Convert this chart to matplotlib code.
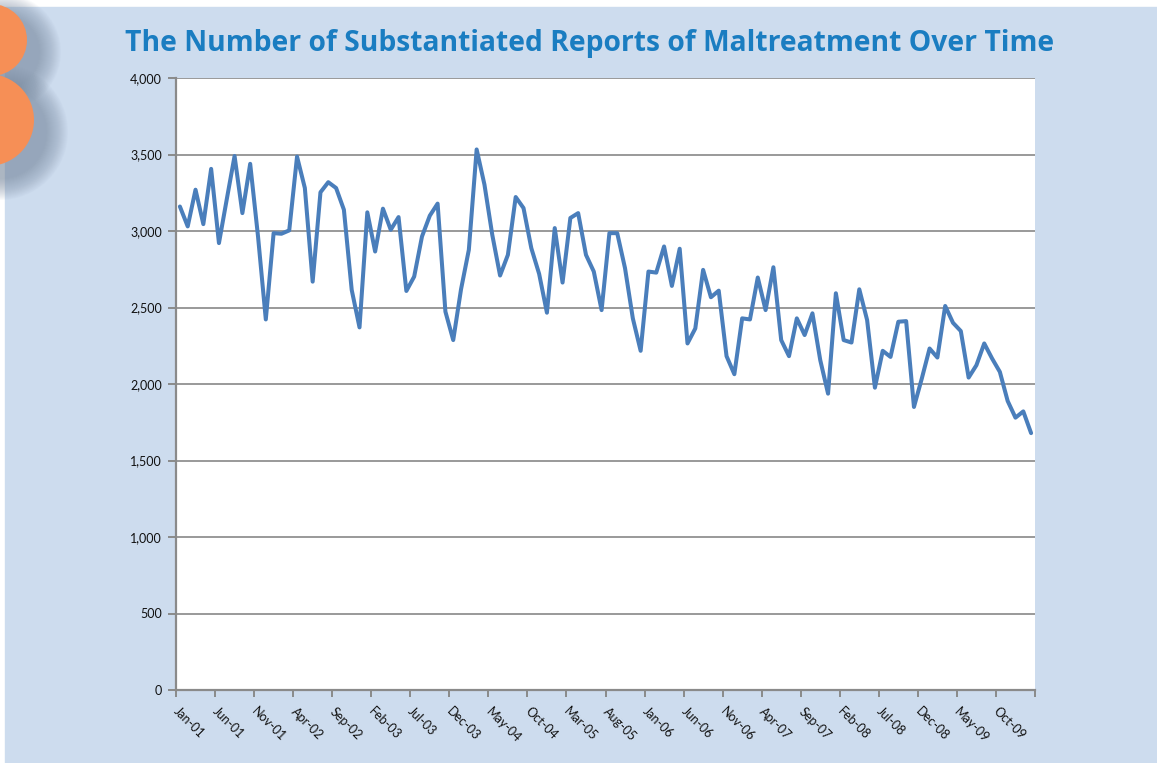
import numpy as np
import pandas as pd
import matplotlib
matplotlib.use("Agg")
import matplotlib.pyplot as plt
from matplotlib.patches import Rectangle, Circle
from matplotlib.ticker import FuncFormatter

# ---------------- data ----------------
months = list(pd.date_range("2001-01-01", periods=110, freq="MS").strftime("%b-%y"))
reports = [
    3160, 3030, 3270, 3045, 3406, 2921, 3207, 3490, 3117, 3439,
    2966, 2422, 2986, 2982, 3004, 3486, 3281, 2669, 3253, 3319,
    3281, 3139, 2615, 2370, 3122, 2866, 3146, 3008, 3091, 2608,
    2702, 2964, 3100, 3179, 2473, 2287, 2619, 2877, 3533, 3303,
    2975, 2709, 2844, 3222, 3150, 2888, 2720, 2466, 3019, 2663,
    3085, 3117, 2844, 2735, 2483, 2986, 2986, 2757, 2429, 2217,
    2735, 2728, 2899, 2641, 2884, 2265, 2363, 2746, 2567, 2610,
    2182, 2064, 2429, 2422, 2696, 2483, 2763, 2287, 2182, 2429,
    2320, 2462, 2156, 1937, 2593, 2287, 2271, 2619, 2418, 1976,
    2217, 2177, 2407, 2411, 1850, 2035, 2232, 2173, 2510, 2400,
    2346, 2042, 2123, 2265, 2167, 2079, 1889, 1780, 1821, 1679,
]
label_step = 5
tick_labels = months[::label_step]
title = "The Number of Substantiated Reports of Maltreatment Over Time"

# ---------------- figure ----------------
W, H = 1157, 763
fig = plt.figure(figsize=(W / 100, H / 100), dpi=100)

bg = fig.add_axes([0, 0, 1, 1], zorder=0)
bg.set_xlim(0, W)
bg.set_ylim(H, 0)
bg.axis("off")
bg.add_patch(Rectangle((0, 0), W, H, color="white"))
bg.add_patch(Rectangle((5, 7), W - 5, H - 7, color="#cddcee"))

# decorative orange circles with soft shadow
circles = [(-9, 40, 36), (-12, 120, 46)]
for (cx, cy, r) in circles:
    for k in range(22, 0, -1):
        bg.add_patch(Circle((cx + 12, cy + 12), r + k, color="#7d8ea3",
                            alpha=0.04, lw=0))
for (cx, cy, r) in circles:
    bg.add_patch(Circle((cx, cy), r, color="#f68f56", lw=0))

bg.text(590, 44, title, ha="center", va="center", color="#1a7dc1",
        fontfamily="Open Sans", fontweight="bold", fontsize=20.3)

# ---------------- main axes ----------------
left, right, top, bottom = 176, 1035, 78, 690
ax = fig.add_axes([left / W, 1 - bottom / H, (right - left) / W, (bottom - top) / H],
                  zorder=2)
ax.set_facecolor("white")

x = np.arange(len(reports))
ax.plot(x, reports, color="#4a7ebb", lw=2.9, solid_joinstyle="round",
        solid_capstyle="round", zorder=3)

ax.set_ylim(0, 4000)
ax.set_yticks(np.arange(0, 4001, 500))
ax.yaxis.set_major_formatter(FuncFormatter(lambda v, p: f"{int(v):,}"))
ax.yaxis.grid(True, color="#999999", lw=1.4, zorder=1)
ax.set_axisbelow(True)

ax.set_xlim(-0.5, len(reports) - 0.5)
ax.set_xticks(np.arange(-0.5, len(reports), label_step))
ax.set_xticklabels([])
ax.set_xticks(x[::label_step], labels=tick_labels, minor=True)

for s in ["top", "right"]:
    ax.spines[s].set_visible(False)
for s in ["left", "bottom"]:
    ax.spines[s].set_color("#8a8a8a")
    ax.spines[s].set_linewidth(1.6)

ax.tick_params(axis="y", which="major", length=6, width=1.4, color="#8a8a8a",
               labelsize=9, labelcolor="#111111", pad=4)
ax.tick_params(axis="x", which="major", length=5, width=1.4, color="#8a8a8a")
ax.tick_params(axis="x", which="minor", length=0, pad=11,
               labelsize=9, labelcolor="#111111")
for lab in ax.get_yticklabels():
    lab.set_fontfamily("Lato")
for lab in ax.get_xticklabels(minor=True):
    lab.set_fontfamily("Lato")
    lab.set_rotation(-45)
    lab.set_ha("left")
    lab.set_va("top")
    lab.set_rotation_mode("anchor")

fig.savefig("out.png", dpi=100)
